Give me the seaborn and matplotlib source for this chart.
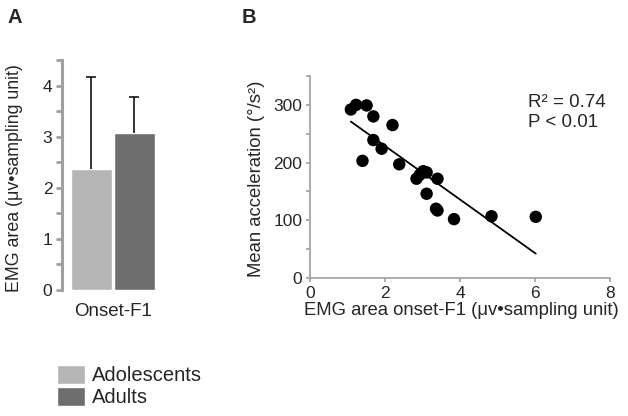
import matplotlib
matplotlib.use("Agg")
import matplotlib.pyplot as plt
import seaborn as sns
import numpy as np
import pandas as pd
from matplotlib.ticker import MultipleLocator

# ---------------- data ----------------
groups = ["Adolescents", "Adults"]
category = "Onset-F1"
emg_mean = [2.37, 3.07]
emg_err = [1.79, 0.70]
group_colors = ["#b5b5b5", "#6e6e6e"]

emg_x = [1.09, 1.23, 1.51, 1.69, 2.20, 1.69, 1.91, 1.40, 2.38, 2.84,
         2.93, 3.02, 3.11, 3.40, 3.11, 3.36, 3.40, 3.84, 4.84, 6.02]
accel_y = [292, 300, 299, 280, 265, 239, 224, 203, 197, 172,
           179, 185, 183, 172, 146, 120, 117, 102, 107, 106]
fit_slope = -46.4
fit_intercept = 321.6
stats_text = "R\u00b2 = 0.74\nP < 0.01"

# ---------------- style ----------------
sns.set_style("white")
plt.rcParams['font.family'] = ['Liberation Sans', 'DejaVu Sans']

W, H = 628, 416
fig = plt.figure(figsize=(W / 100, H / 100), dpi=100)

spine_grey = "#a0a0a0"

# ---------------- panel A ----------------
axA = fig.add_axes([62 / W, (H - 290) / H, (172 - 62) / W, (290 - 60) / H])
dfA = pd.DataFrame({"cat": [category] * len(groups), "group": groups, "val": emg_mean})
sns.barplot(data=dfA, x="cat", y="val", hue="group", hue_order=groups,
            palette=group_colors, errorbar=None, width=0.8, gap=0.05,
            saturation=1, ax=axA, legend=True)
handles, labels = axA.get_legend_handles_labels()
axA.get_legend().remove()

bars = [p for p in axA.patches if p.get_height() > 0][:len(groups)]
for p, err in zip(bars, emg_err):
    cx = p.get_x() + p.get_width() / 2
    top = p.get_height()
    _, caps, _ = axA.errorbar(cx, top, yerr=[[0], [err]], color="black", lw=1.1,
                              capsize=3.5, capthick=1.1, fmt="none")
    if len(caps) > 1:
        caps[0].set_visible(False)

axA.set_ylim(0, 4.5)
axA.set_xlim(-0.474, 0.55)
axA.yaxis.set_major_locator(MultipleLocator(1))
axA.yaxis.set_minor_locator(MultipleLocator(0.5))
for s in ["top", "right", "bottom"]:
    axA.spines[s].set_visible(False)
axA.spines["left"].set_color(spine_grey)
axA.spines["left"].set_linewidth(2.2)
axA.tick_params(axis="y", which="both", left=True, direction="out", length=4,
                width=2, color=spine_grey, labelsize=12.5, pad=3)
axA.tick_params(axis="x", length=0, labelsize=13.5, pad=9)
axA.set_xlabel("")
axA.set_ylabel("EMG area (\u03bcv\u2022sampling unit)", fontsize=12.8)
axA.yaxis.set_label_coords(-0.355, 0.485)

fig.legend(handles, labels, loc="upper left", bbox_to_anchor=(57 / W, 1 - 365 / H),
           frameon=False, fontsize=14.5, handlelength=1.4, handleheight=1.05,
           labelspacing=0.08, handletextpad=0.35, borderpad=0, borderaxespad=0)

# ---------------- panel B ----------------
axB = fig.add_axes([310 / W, (H - 278) / H, 300 / W, (278 - 76) / H])
sns.scatterplot(x=emg_x, y=accel_y, color="black", s=80, edgecolor="none", ax=axB)
xs = np.array([min(emg_x), max(emg_x)])
sns.lineplot(x=xs, y=fit_intercept + fit_slope * xs, color="black", lw=1.3, ax=axB)

axB.set_xlim(0, 8)
axB.set_ylim(0, 350)
axB.xaxis.set_major_locator(MultipleLocator(2))
axB.yaxis.set_major_locator(MultipleLocator(100))
axB.yaxis.set_minor_locator(MultipleLocator(50))
for s in ["top", "right"]:
    axB.spines[s].set_visible(False)
for s in ["left", "bottom"]:
    axB.spines[s].set_color(spine_grey)
    axB.spines[s].set_linewidth(1.2)
axB.tick_params(axis="both", which="both", left=True, bottom=True, direction="out",
                length=3, width=1.2, color=spine_grey, labelsize=12.5, pad=2.5)
axB.set_xlabel("EMG area onset-F1 (\u03bcv\u2022sampling unit)", fontsize=13.3)
axB.xaxis.set_label_coords(0.505, -0.118)
axB.xaxis.label.set_verticalalignment("top")
axB.set_ylabel("Mean acceleration (\u00b0/s\u00b2)", fontsize=13.3)
axB.yaxis.set_label_coords(-0.15, 0.49)
axB.text(5.81, 318, stats_text, fontsize=13.5, va="top", ha="left", linespacing=1.2)

# ---------------- panel letters ----------------
fig.text(8 / W, 1 - 8 / H, "A", fontsize=14.5, fontweight="bold", va="top", ha="left")
fig.text(242 / W, 1 - 8 / H, "B", fontsize=14.5, fontweight="bold", va="top", ha="left")

fig.savefig("out.png", dpi=100, facecolor="white")
